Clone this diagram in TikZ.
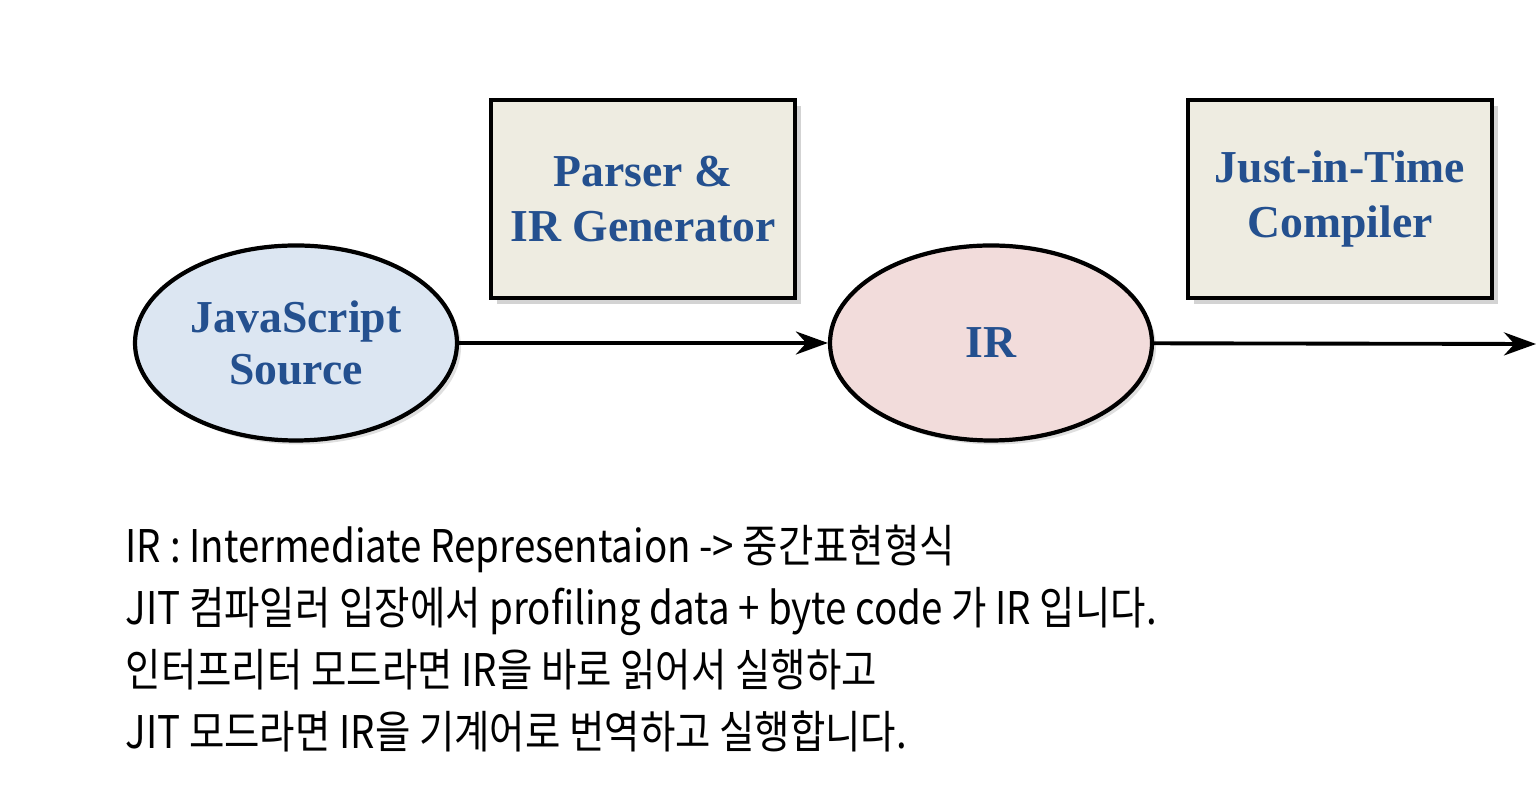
\documentclass[tikz,border=0pt]{standalone}
\usepackage{fontspec}
\setmainfont{Liberation Serif}
\newfontfamily\krfont[FakeStretch=0.855]{Noto Sans CJK KR}
\usetikzlibrary{shapes.geometric, arrows.meta, shadows}
\definecolor{srcblue}{HTML}{DCE6F2}
\definecolor{irpink}{HTML}{F2DCDB}
\definecolor{stagebeige}{HTML}{EEECE1}
\definecolor{labelblue}{HTML}{24508F}
\tikzset{
  datanode/.style={ellipse, draw, line width=1.2pt, inner sep=0pt,
    minimum width=3.22cm, minimum height=1.95cm, align=center,
    font=\fontsize{13}{15}\selectfont\bfseries, text=labelblue,
    drop shadow={opacity=0.25, shadow xshift=0.04cm, shadow yshift=-0.04cm}},
  stagebox/.style={rectangle, draw, line width=1.4pt, fill=stagebeige,
    minimum width=3.04cm, minimum height=1.98cm, align=center,
    font=\fontsize{13}{15.5}\selectfont\bfseries, text=labelblue,
    drop shadow={opacity=0.35, shadow xshift=0.06cm, shadow yshift=-0.06cm}},
  noteline/.style={anchor=base west, inner sep=0pt,
    font=\krfont\fontsize{12.8}{15}\selectfont}
}

\begin{document}
\begin{tikzpicture}[>={Stealth[length=3.2mm, width=2.3mm]}]
  \useasboundingbox (0,0) rectangle (15.36,8);

  % pipeline
  \node[datanode, fill=srcblue] (src) at (2.96,4.57) {JavaScript\\Source};
  \node[datanode, fill=irpink] (ir) at (9.91,4.57) {IR};
  \node[stagebox] (parser) at (6.43,6.01) {Parser \&\\IR Generator};
  \node[stagebox] (jit) at (13.40,6.01) {Just-in-Time\\Compiler};
  \coordinate (out) at (15.36,4.56);

  \draw[->, line width=1.1pt] (src) -- (ir);
  \draw[->, line width=1.1pt] (ir) -- (out);

  % notes
  \node[noteline] (note1) at (1.25,2.37) {IR : Intermediate Representaion -> 중간표현형식};
  \node[noteline] (note2) at (1.25,1.75) {JIT 컴파일러 입장에서 profiling data + byte code 가 IR 입니다.};
  \node[noteline] (note3) at (1.25,1.13) {인터프리터 모드라면 IR을 바로 읽어서 실행하고};
  \node[noteline] (note4) at (1.25,0.51) {JIT 모드라면 IR을 기계어로 번역하고 실행합니다.};
\end{tikzpicture}
\end{document}
